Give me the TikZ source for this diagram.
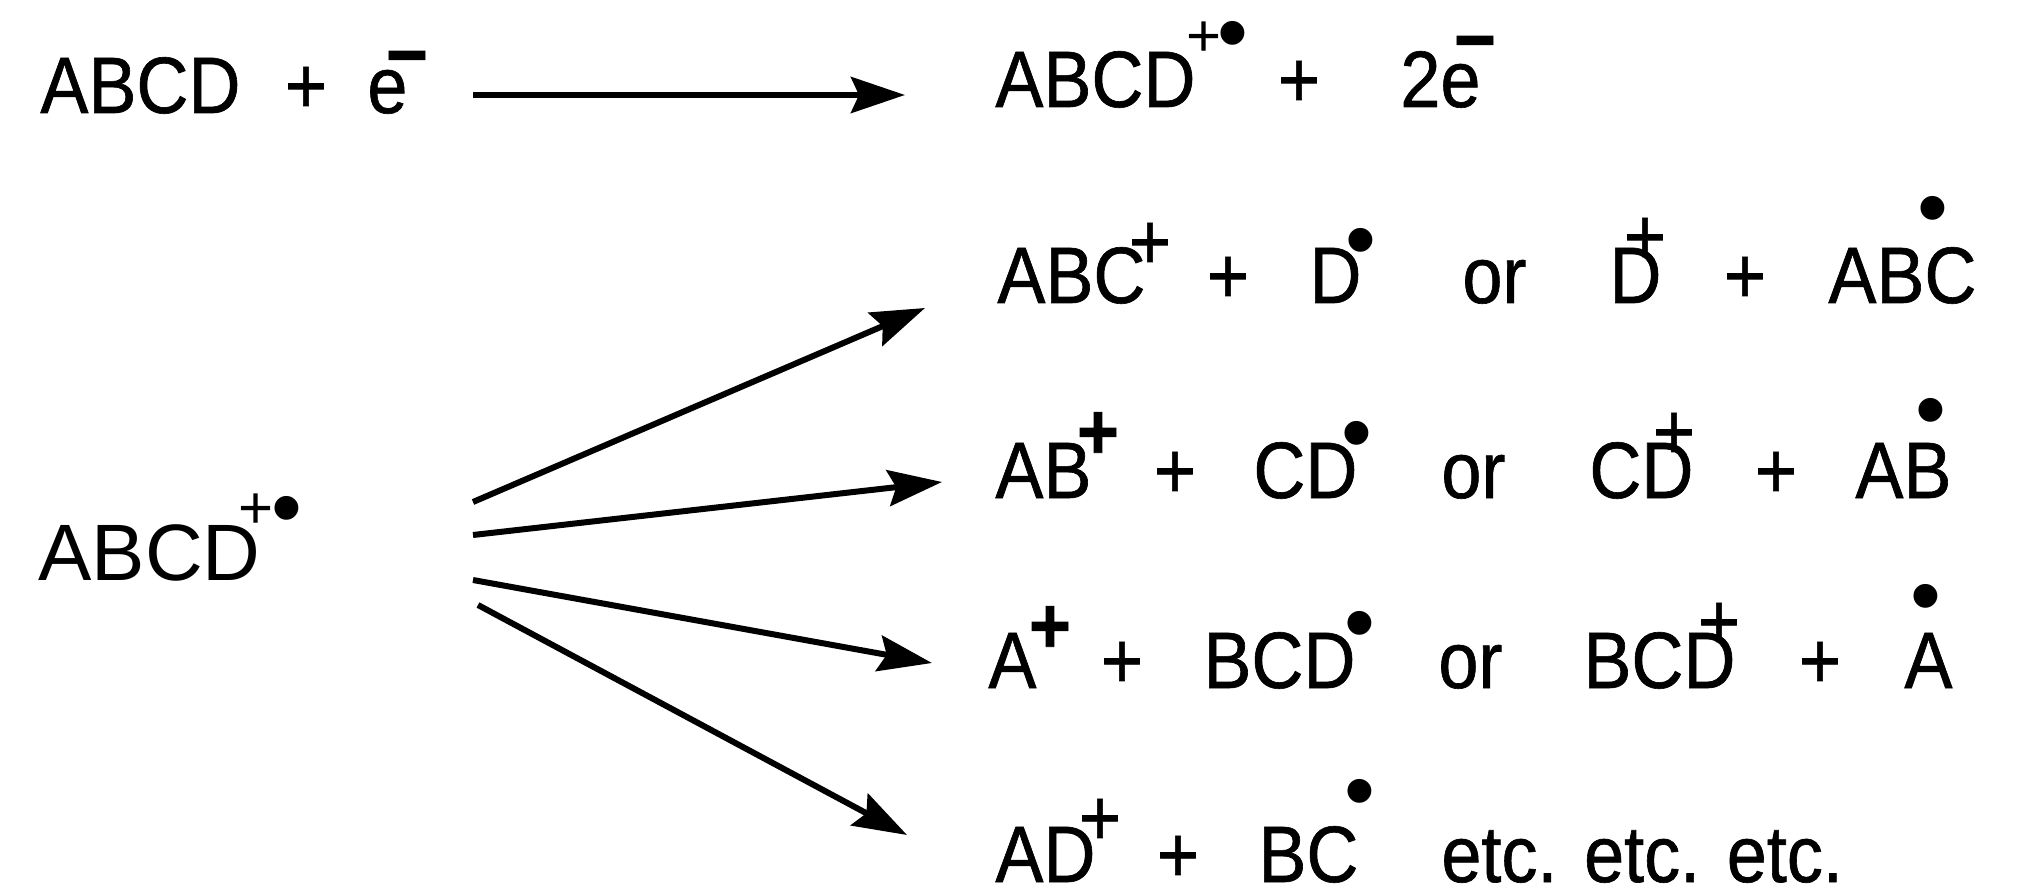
\documentclass[tikz,border=0pt]{standalone}
\usepackage{fontspec}
\setmainfont{Liberation Sans}
\newfontfamily\narrowsf[FakeStretch=0.9, FakeBold=0.8]{Liberation Sans}
\usetikzlibrary{arrows.meta}

\begin{document}
\begin{tikzpicture}[x=0.5pt, y=-0.5pt,
    >={Stealth[length=27pt, width=18pt, inset=4pt]},
    species/.style={anchor=base west, inner sep=0pt, font=\narrowsf\fontsize{40}{48}\selectfont},
    wide/.style={species, font=\fontsize{40}{48}\selectfont},
    op/.style={anchor=base, inner sep=0pt, font=\narrowsf\fontsize{40}{48}\selectfont},
    plus/.style={anchor=base, inner sep=0pt, yshift=-14pt, font=\narrowsf\fontsize{40}{48}\selectfont},
    boldplus/.style={plus, font=\narrowsf\bfseries\fontsize{40}{48}\selectfont},
    thinplus/.style={anchor=base, inner sep=0pt, yshift=-10.5pt, font=\fontsize{30}{36}\selectfont},
    rad/.style={anchor=base, inner sep=0pt, yshift=-15pt, font=\fontsize{44}{48}\selectfont},
    minus/.style={anchor=base, inner sep=0pt, yshift=-13pt, font=\narrowsf\bfseries\fontsize{40}{48}\selectfont},
    arrow/.style={->, line width=3pt}
  ]
  \useasboundingbox (0,0) rectangle (2034,887);

  % Ionisation
  \node[species] (t1a) at (40,113) {ABCD};
  \node[op] (t1p) at (306,113) {+};
  \node[species] (t1e) at (367,113) {e};
  \node[minus] (t1m) at (407,56) {−};
  \node[species] (t1b) at (995,107) {ABCD};
  \node[thinplus] (t1bp) at (1204,36) {+};
  \node[rad] (t1bd) at (1233,33) {•};
  \node[op] (t1q) at (1299,107) {+};
  \node[species] (t1c) at (1400,107) {2e};
  \node[minus] (t1cm) at (1475,41) {−};

  % Molecular ion
  \node[wide] (m0) at (38,580) {ABCD};
  \node[thinplus] (m0p) at (256,507) {+};
  \node[rad] (m0d) at (287,507) {•};

  % Fragments
  \node[species] (r2a) at (997,303) {ABC};
  \node[plus] (r2ap) at (1150,241) {+};
  \node[op] (r2o1) at (1228,303) {+};
  \node[species] (r2b) at (1309,303) {D};
  \node[rad] (r2bd) at (1361,240) {•};
  \node[species] (r2or) at (1462,303) {or};
  \node[species] (r2c) at (1609,303) {D};
  \node[plus] (r2cp) at (1645,236) {+};
  \node[op] (r2o2) at (1745,303) {+};
  \node[species] (r2d) at (1828,303) {ABC};
  \node[rad] (r2dd) at (1933,208) {•};

  \node[species] (r3a) at (995,498) {AB};
  \node[boldplus] (r3ap) at (1098,431) {+};
  \node[op] (r3o1) at (1175,498) {+};
  \node[species] (r3b) at (1253,498) {CD};
  \node[rad] (r3bd) at (1357,432) {•};
  \node[species] (r3or) at (1441,498) {or};
  \node[species] (r3c) at (1589,498) {CD};
  \node[plus] (r3cp) at (1674,431) {+};
  \node[op] (r3o2) at (1776,498) {+};
  \node[species] (r3d) at (1855,498) {AB};
  \node[rad] (r3dd) at (1931,409) {•};

  \node[species] (r4a) at (988,688) {A};
  \node[boldplus] (r4ap) at (1050,625) {+};
  \node[op] (r4o1) at (1122,688) {+};
  \node[species] (r4b) at (1203,688) {BCD};
  \node[rad] (r4bd) at (1360,622) {•};
  \node[species] (r4or) at (1438,688) {or};
  \node[species] (r4c) at (1583,688) {BCD};
  \node[plus] (r4cp) at (1719,621) {+};
  \node[op] (r4o2) at (1820,688) {+};
  \node[species] (r4d) at (1904,688) {A};
  \node[rad] (r4dd) at (1926,595) {•};

  \node[species] (r5a) at (995,882) {AD};
  \node[plus] (r5ap) at (1100,817) {+};
  \node[op] (r5o1) at (1178,882) {+};
  \node[species] (r5b) at (1258,882) {BC};
  \node[rad] (r5bd) at (1360,790) {•};
  \node[species] (r5etc) at (1441,882) {etc. etc. etc.};

  % Arrow ends
  \coordinate (s0) at (473,95);
  \coordinate (e0) at (905,95);
  \coordinate (s1) at (473,502);
  \coordinate (e1) at (925,308);
  \coordinate (s2) at (473,535);
  \coordinate (e2) at (942,482);
  \coordinate (s3) at (473,580);
  \coordinate (e3) at (932,663);
  \coordinate (s4) at (478,605);
  \coordinate (e4) at (907,835);

  % Arrows
  \draw[arrow] (s0) -- (e0);
  \draw[arrow] (s1) -- (e1);
  \draw[arrow] (s2) -- (e2);
  \draw[arrow] (s3) -- (e3);
  \draw[arrow] (s4) -- (e4);
\end{tikzpicture}
\end{document}
